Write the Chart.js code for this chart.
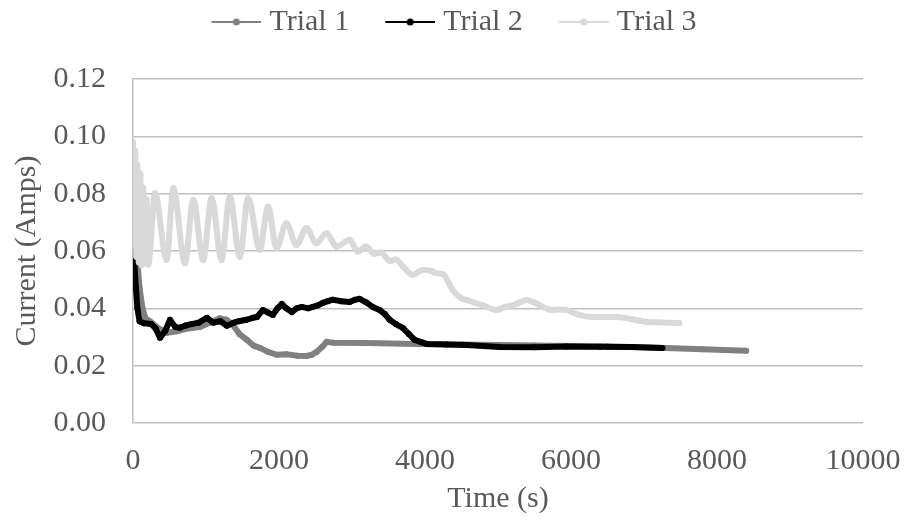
<!DOCTYPE html>
<html lang="en">
<head>
    <meta charset="UTF-8">
    <title>Current vs Time</title>
    <script src="https://cdn.jsdelivr.net/npm/chart.js"></script>
    <style>
        body { margin: 0; background: #fff; }
        #chart { display: block; }
    </style>
</head>
<body>
    <canvas id="chart" width="905" height="521"></canvas>

    <script>
        // values
        const seriesNames = ['Trial 1', 'Trial 2', 'Trial 3'];
        const seriesColors = ['#808080', '#000000', '#d9d9d9'];

        const trial1Time = [0, 30, 60, 90, 130, 170, 232, 350, 465, 600, 750, 917, 1050, 1190, 1280, 1368, 1460, 1560, 1650, 1737, 1850, 1970, 2100, 2250, 2380, 2450, 2517, 2590, 2654, 2750, 3200, 3885, 4500, 5500, 6500, 7300, 7800, 8400];
        const trial1Current = [0.076, 0.066, 0.056, 0.047, 0.040, 0.0365, 0.0355, 0.033, 0.0315, 0.032, 0.033, 0.0335, 0.035, 0.0365, 0.036, 0.0342, 0.031, 0.029, 0.027, 0.0262, 0.0248, 0.0238, 0.024, 0.0235, 0.0234, 0.0238, 0.0248, 0.0265, 0.0283, 0.028, 0.0279, 0.0276, 0.0274, 0.0270, 0.0267, 0.0262, 0.0257, 0.0252];

        const trial2Time = [0, 20, 40, 60, 90, 150, 250, 310, 370, 440, 506, 580, 643, 720, 800, 900, 1012, 1100, 1200, 1286, 1380, 1450, 1550, 1641, 1700, 1778, 1850, 1915, 1980, 2038, 2100, 2175, 2240, 2312, 2400, 2462, 2530, 2599, 2670, 2736, 2850, 2968, 3040, 3105, 3200, 3283, 3379, 3450, 3516, 3600, 3694, 3780, 3858, 3950, 4022, 4300, 4569, 5020, 5500, 5937, 6400, 6840, 7250];
        const trial2Current = [0.063, 0.055, 0.047, 0.040, 0.0355, 0.0348, 0.0345, 0.033, 0.0297, 0.032, 0.036, 0.0335, 0.0332, 0.034, 0.0345, 0.035, 0.0367, 0.035, 0.0355, 0.0339, 0.035, 0.0355, 0.036, 0.0367, 0.037, 0.0394, 0.0385, 0.0377, 0.040, 0.0415, 0.040, 0.0387, 0.040, 0.0405, 0.040, 0.0405, 0.041, 0.0419, 0.0425, 0.043, 0.0425, 0.0422, 0.043, 0.0433, 0.042, 0.0405, 0.0394, 0.038, 0.036, 0.0345, 0.0332, 0.031, 0.029, 0.0282, 0.0276, 0.0274, 0.0272, 0.0265, 0.0264, 0.0267, 0.0266, 0.0265, 0.0262];

        const trial3Time = [0, 15, 30, 45, 60, 80, 100, 120, 140, 160, 185, 210, 301, 461, 552, 711, 825, 961, 1076, 1213, 1327, 1464, 1577, 1737, 1851, 1965, 2102, 2238, 2376, 2512, 2650, 2790, 2968, 3080, 3196, 3300, 3400, 3520, 3600, 3700, 3830, 3967, 4100, 4150, 4241, 4378, 4500, 4569, 4800, 4979, 5100, 5250, 5390, 5500, 5745, 5850, 5937, 6100, 6293, 6621, 7031, 7483];
        const trial3Current = [0.098, 0.062, 0.095, 0.058, 0.090, 0.056, 0.087, 0.055, 0.082, 0.056, 0.078, 0.0552, 0.0802, 0.0569, 0.0819, 0.0557, 0.0778, 0.0569, 0.0784, 0.0569, 0.079, 0.058, 0.0784, 0.0604, 0.0755, 0.061, 0.0697, 0.0621, 0.068, 0.0627, 0.0662, 0.0615, 0.0639, 0.0598, 0.0616, 0.0590, 0.0595, 0.0565, 0.0570, 0.0545, 0.0517, 0.0534, 0.0530, 0.0522, 0.0520, 0.0464, 0.0435, 0.0429, 0.041, 0.0394, 0.0405, 0.0415, 0.0429, 0.0420, 0.0394, 0.0396, 0.0394, 0.0378, 0.037, 0.037, 0.0353, 0.0349];

        const xTicks = [0, 2000, 4000, 6000, 8000, 10000];
        const yTicks = [0, 0.02, 0.04, 0.06, 0.08, 0.10, 0.12];

        const textColor = '#595959';
        const gridColor = '#bfbfbf';
        const serif = 'Liberation Serif';

        function toPoints(times, values) {
            return times.map((t, i) => ({ x: t, y: values[i] }));
        }

        // legend icon: short line with a dot, like the spreadsheet legend
        function makeIcon(color) {
            const c = document.createElement('canvas');
            c.width = 86;
            c.height = 12;
            const g = c.getContext('2d');
            g.strokeStyle = color;
            g.lineWidth = 2;
            g.beginPath();
            g.moveTo(36, 6);
            g.lineTo(86, 6);
            g.stroke();
            g.fillStyle = color;
            g.beginPath();
            g.arc(61, 6, 3.5, 0, Math.PI * 2);
            g.fill();
            return c;
        }
        const legendIcons = seriesColors.map(makeIcon);

        const allTimes = [trial1Time, trial2Time, trial3Time];
        const allValues = [trial1Current, trial2Current, trial3Current];

        const datasets = seriesNames.map((name, i) => ({
            label: name,
            data: toPoints(allTimes[i], allValues[i]),
            borderColor: seriesColors[i],
            backgroundColor: seriesColors[i],
            borderWidth: 6,
            pointRadius: 3,
            pointBorderWidth: 0,
            pointHoverRadius: 3,
            showLine: true,
            order: 3 - i,
            cubicInterpolationMode: i === 2 ? 'monotone' : 'default',
            tension: i === 2 ? 0.4 : 0,
            borderJoinStyle: 'round',
            borderCapStyle: 'round'
        }));

        new Chart(document.getElementById('chart'), {
            type: 'scatter',
            data: { datasets },
            options: {
                responsive: false,
                animation: false,
                devicePixelRatio: 1,
                layout: { padding: { top: 0, right: 42, bottom: 0, left: 16 } },
                plugins: {
                    tooltip: { enabled: false },
                    legend: {
                        position: 'top',
                        weight: 3000,
                        labels: {
                            usePointStyle: true,
                            pointStyleWidth: 72,
                            padding: 7,
                            color: textColor,
                            font: { family: serif, size: 30 },
                            generateLabels(chart) {
                                const items = Chart.defaults.plugins.legend.labels.generateLabels(chart);
                                items.forEach(it => { it.pointStyle = legendIcons[it.datasetIndex]; });
                                return items.sort((a, b) => a.datasetIndex - b.datasetIndex);
                            }
                        }
                    },
                    // empty title only used as a spacer between legend and plot
                    title: {
                        display: true,
                        text: '',
                        font: { size: 1, lineHeight: 1 },
                        padding: { top: 0, bottom: 31 }
                    }
                },
                scales: {
                    x: {
                        type: 'linear',
                        min: 0,
                        max: 10000,
                        afterBuildTicks(scale) {
                            scale.ticks = xTicks.map(v => ({ value: v }));
                        },
                        afterFit(scale) {
                            scale.height = 98;
                            scale.paddingLeft = 0;
                            scale.paddingRight = 0;
                        },
                        grid: { display: false, drawTicks: false },
                        border: { display: false },
                        ticks: {
                            color: textColor,
                            font: { family: serif, size: 30 },
                            padding: 20,
                            maxRotation: 0,
                            callback: v => String(v)
                        },
                        title: {
                            display: true,
                            text: 'Time (s)',
                            color: textColor,
                            font: { family: serif, size: 30, lineHeight: 1 },
                            padding: { top: 0, bottom: 7 }
                        }
                    },
                    y: {
                        min: 0,
                        max: 0.12,
                        afterBuildTicks(scale) {
                            scale.ticks = yTicks.map(v => ({ value: v }));
                        },
                        afterFit(scale) { scale.width = 117; },
                        grid: { color: gridColor, lineWidth: 1.5, drawTicks: false },
                        border: { display: true, color: gridColor, width: 1.5 },
                        ticks: {
                            color: textColor,
                            font: { family: serif, size: 30 },
                            padding: 27,
                            callback: v => v.toFixed(2)
                        },
                        title: {
                            display: true,
                            text: 'Current (Amps)',
                            color: textColor,
                            font: { family: serif, size: 30, lineHeight: 0.6 },
                            padding: { top: 2, bottom: 0 }
                        }
                    }
                }
            }
        });
    </script>
</body>
</html>
